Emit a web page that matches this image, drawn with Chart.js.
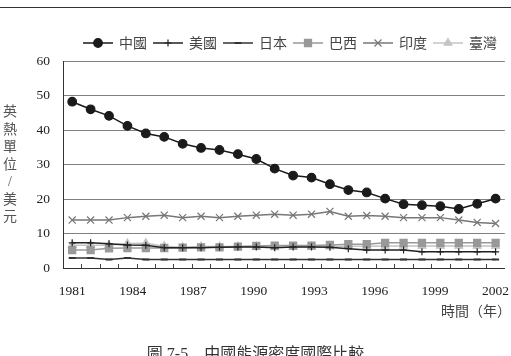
<!DOCTYPE html>
<html lang="zh-Hant">
<head>
<meta charset="UTF-8">
<title>中國能源密度國際比較</title>
<script src="https://cdn.jsdelivr.net/npm/chart.js"></script>
<style>
  html, body { margin: 0; padding: 0; background: #fff; }
  body {
    width: 511px; height: 356px; position: relative; overflow: hidden;
    font-family: 'Liberation Serif', 'Noto Sans CJK TC', serif;
  }
  #wrap { position: absolute; left: 0; top: 0; width: 511px; height: 356px; }
  .rule { position: absolute; left: 0; right: 0; top: 7px; border-top: 1px solid #333; }
  .ytitle {
    position: absolute; left: 2px; top: 103px; width: 16px;
    text-align: center; font-size: 14px; line-height: 17.5px; color: #555;
  }
  .xtitle {
    position: absolute; right: 0; top: 304px;
    font-size: 14px; line-height: 16px; color: #444; white-space: pre;
  }
  .caption {
    position: absolute; left: 0; right: 0; top: 346px; text-align: center;
    font-size: 16px; line-height: 16px; color: #333; white-space: pre;
  }
</style>
</head>
<body>
<div class="rule"></div>
<div id="wrap"><canvas id="chart"></canvas></div>
<div class="ytitle">英<br>熱<br>單<br>位<br>/<br>美<br>元</div>
<div class="xtitle">時間（年）</div>
<div class="caption">圖 7-5　中國能源密度國際比較</div>

<script>
  // 24 points per series, tick labels run 1981 .. 2002
  const xTickLabels = [1981, 1984, 1987, 1990, 1993, 1996, 1999, 2002];
  const china  = [48.2, 46.0, 44.1, 41.2, 39.0, 38.0, 36.0, 34.8, 34.2, 33.0, 31.6, 28.8,
                  26.8, 26.2, 24.3, 22.6, 21.9, 20.1, 18.5, 18.2, 17.9, 17.1, 18.6, 20.1];
  const usa    = [7.3, 7.3, 7.0, 6.7, 6.6, 5.9, 5.9, 5.9, 6.0, 6.1, 6.1, 5.9,
                  6.1, 6.1, 6.0, 5.6, 5.2, 5.2, 5.2, 4.7, 4.7, 4.7, 4.7, 4.7];
  const japan  = [2.9, 2.9, 2.5, 2.9, 2.5, 2.5, 2.5, 2.5, 2.5, 2.5, 2.5, 2.5,
                  2.5, 2.5, 2.5, 2.5, 2.5, 2.5, 2.5, 2.5, 2.5, 2.5, 2.5, 2.5];
  const brazil = [5.2, 5.2, 5.7, 5.8, 5.8, 5.8, 5.9, 6.0, 6.0, 6.2, 6.4, 6.5,
                  6.5, 6.5, 6.7, 6.9, 6.9, 7.3, 7.3, 7.3, 7.3, 7.3, 7.3, 7.3];
  const india  = [13.9, 13.9, 13.9, 14.6, 15.0, 15.3, 14.6, 15.0, 14.6, 15.0, 15.3, 15.6,
                  15.3, 15.6, 16.4, 15.0, 15.2, 15.0, 14.6, 14.6, 14.6, 13.9, 13.2, 12.9];
  const taiwan = [6.6, 6.6, 6.6, 7.1, 7.2, 6.3, 6.0, 6.2, 6.2, 6.2, 6.2, 6.0,
                  6.1, 6.2, 6.2, 6.3, 6.3, 6.4, 6.4, 6.4, 6.4, 6.4, 6.4, 6.4];
  const categories = china.map((v, i) => String(i + 1));

  const serif = "'Liberation Serif', 'Noto Sans CJK TC', serif";

  function series(label, data, color, style, radius, fill) {
    return {
      label, data,
      borderColor: color, backgroundColor: fill || color,
      borderWidth: 1.5,
      pointStyle: style, pointRadius: radius, pointHoverRadius: radius,
      pointBorderColor: color, pointBackgroundColor: fill || color,
      pointBorderWidth: style === 'line' ? 2 : 1.2,
      tension: 0, xAxisID: 'x'
    };
  }

  const datasets = [
    series('中國', china, '#1a1a1a', 'circle', 4.3),
    series('美國', usa, '#222', 'cross', 3.5),
    series('日本', japan, '#333', 'line', 3.5),
    series('巴西', brazil, '#999', 'rect', 5),
    series('印度', india, '#777', 'crossRot', 5),
    series('臺灣', taiwan, '#c4c4c4', 'triangle', 4.5)
  ];

  // legend drawn as line + marker, like the original
  const lineLegend = {
    id: 'lineLegend',
    afterDraw(chart) {
      const ctx = chart.ctx;
      let x = 83;
      const y = 43;
      ctx.save();
      ctx.font = '14px ' + serif;
      ctx.textBaseline = 'middle';
      chart.data.datasets.forEach(ds => {
        ctx.strokeStyle = ds.borderColor;
        ctx.lineWidth = 1.5;
        ctx.beginPath();
        ctx.moveTo(x, y);
        ctx.lineTo(x + 30, y);
        ctx.stroke();
        ctx.fillStyle = ds.pointBackgroundColor;
        ctx.strokeStyle = ds.pointBorderColor;
        ctx.lineWidth = ds.pointBorderWidth;
        Chart.helpers.drawPoint(ctx, {
          pointStyle: ds.pointStyle, radius: ds.pointRadius, rotation: 0, borderWidth: ds.pointBorderWidth
        }, x + 15, y);
        ctx.fillStyle = '#444';
        ctx.fillText(ds.label, x + 36, y + 1);
        x += 36 + ctx.measureText(ds.label).width + 6;
      });
      ctx.restore();
    }
  };

  // short inside ticks on the category axis
  const insideTicks = {
    id: 'insideTicks',
    afterDatasetsDraw(chart) {
      const { ctx, chartArea } = chart;
      const n = categories.length;
      const w = (chartArea.right - chartArea.left) / n;
      ctx.save();
      ctx.strokeStyle = '#444';
      ctx.lineWidth = 1;
      for (let i = 1; i < n; i++) {
        const px = Math.round(chartArea.left + i * w) + 0.5;
        ctx.beginPath();
        ctx.moveTo(px, chartArea.bottom);
        ctx.lineTo(px, chartArea.bottom - 4);
        ctx.stroke();
      }
      ctx.restore();
    }
  };

  const step = (xTickLabels[xTickLabels.length - 1] - xTickLabels[0]) / (categories.length - 1);

  new Chart(document.getElementById('chart'), {
    type: 'line',
    data: { labels: categories, datasets },
    plugins: [lineLegend, insideTicks],
    options: {
      responsive: true,
      maintainAspectRatio: false,
      animation: false,
      layout: { padding: { top: 61, right: 4, left: 0, bottom: 0 } },
      plugins: { legend: { display: false }, tooltip: { enabled: false } },
      scales: {
        x: {
          type: 'category', offset: true, display: false
        },
        years: {
          type: 'linear', position: 'bottom',
          min: xTickLabels[0] - step / 2,
          max: xTickLabels[xTickLabels.length - 1] + step / 2,
          afterBuildTicks: axis => { axis.ticks = xTickLabels.map(v => ({ value: v })); },
          afterFit: s => { s.height = 88; s.paddingLeft = 0; s.paddingRight = 0; },
          grid: { display: false },
          border: { color: '#333', width: 1 },
          ticks: { color: '#222', padding: 7, font: { family: serif, size: 13.5 }, maxRotation: 0, autoSkip: false,
                   callback: v => String(v) }
        },
        y: {
          min: 0, max: 60,
          afterFit: s => { s.width = 63; },
          ticks: { stepSize: 10, color: '#222', padding: 13, font: { family: serif, size: 13.5 } },
          grid: { color: '#808080', lineWidth: 1, drawTicks: false },
          border: { color: '#333', width: 1 }
        }
      }
    }
  });
</script>
</body>
</html>
